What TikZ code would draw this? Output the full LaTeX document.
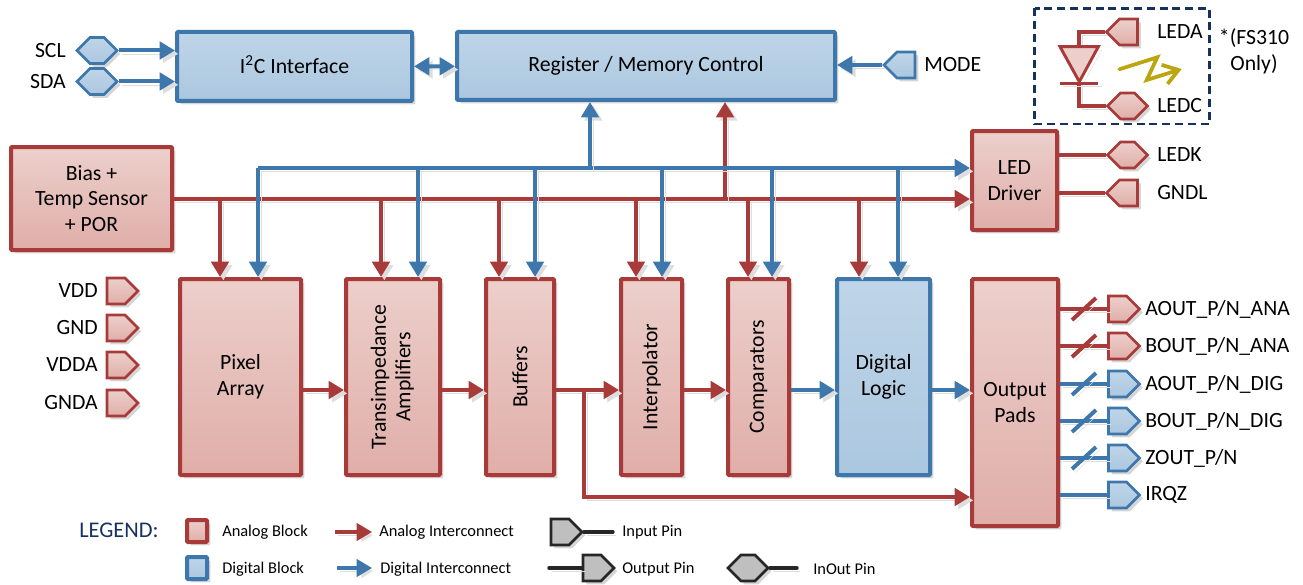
\documentclass[tikz,border=0pt]{standalone}
\usepackage{fontspec}
\setmainfont{Carlito}
\usetikzlibrary{arrows.meta,calc,shadows,shapes.symbols}
\definecolor{anared}{HTML}{A83B3A}
\definecolor{anatop}{HTML}{ECCFCB}
\definecolor{anabot}{HTML}{E0AEA9}
\definecolor{digblue}{HTML}{3E77AC}
\definecolor{digtop}{HTML}{BFD5E8}
\definecolor{digbot}{HTML}{ABC7DF}
\definecolor{navy}{HTML}{17315F}
\definecolor{zap}{HTML}{BCA60E}
\definecolor{pingray}{HTML}{BFBFBF}
\definecolor{pinline}{HTML}{262626}
\tikzset{
  lineshade/.style={preaction={draw=black!13, transform canvas={xshift=2.5pt,yshift=-2.5pt}}},
  ana/.style={draw=anared, line width=3pt, lineshade},
  dig/.style={draw=digblue, line width=3pt, lineshade},
  legline/.style={draw=pinline, line width=2.6pt, line cap=round, lineshade},
  boxshade/.style={drop shadow={shadow xshift=2.5pt, shadow yshift=-2.5pt, opacity=0.16, fill=black}},
  anafill/.style={draw=anared, top color=anatop, bottom color=anabot},
  digfill/.style={draw=digblue, top color=digtop, bottom color=digbot},
  grayfill/.style={draw=pinline, fill=pingray},
  size/.style n args={2}{minimum width=#1*0.75pt, minimum height=#2*0.75pt},
  block/.style={line width=3pt, rounded corners=0.8pt, boxshade, inner sep=0pt, align=center,
    font=\fontsize{16.3}{19.4}\selectfont},
  inpin/.style={signal, signal to=west, line width=2pt, inner sep=0pt, size={31}{26}, boxshade},
  outpin/.style={signal, signal to=east, line width=2pt, inner sep=0pt, size={31}{26}, boxshade},
  iopin/.style={signal, signal to=west and east, line width=2pt, inner sep=0pt, size={40}{26}, boxshade},
  lab/.style={font=\fontsize{16.3}{19.4}\selectfont, inner sep=0pt, align=center},
  leg/.style={font=\fontsize{12.3}{14}\selectfont, inner sep=0pt, anchor=west},
}
\begin{document}
\begin{tikzpicture}[x=0.75pt, y=-0.75pt, >={Triangle[length=11.5pt,width=13pt]}]
  \useasboundingbox (0,0) rectangle (1303,585);

  % blocks
  \node[block, digfill, size={235}{69}] (iic) at (294.5,66.5) {I\smash{\textsuperscript{2}}C Interface};
  \node[block, digfill, size={378}{68}] (regctl) at (646,66) {Register / Memory Control};
  \node[block, anafill, size={161}{103}] (bias) at (91.5,198.5) {Bias +\\Temp Sensor\\+ POR};
  \node[block, anafill, size={85}{99}] (driver) at (1014.5,180.5) {LED\\Driver};
  \node[block, anafill, size={121}{196}] (pixel) at (240.5,377) {Pixel\\Array};
  \node[block, anafill, size={94}{196}] (trans) at (393,377) {\rotatebox{90}{\begin{tabular}{@{}c@{}}Transimpedance\\[-1pt]Amplifiers\end{tabular}}};
  \node[block, anafill, size={68}{196}] (buffers) at (520,377) {\rotatebox{90}{Buffers}};
  \node[block, anafill, size={61}{196}] (interp) at (651.5,377) {\rotatebox{90}{Interpolator}};
  \node[block, anafill, size={61}{196}] (comp) at (758.5,377) {\rotatebox{90}{Comparators}};
  \node[block, digfill, size={93}{196}] (logic) at (883.5,377) {Digital\\Logic};
  \node[block, anafill, size={86}{247}] (pads) at (1015,402.5) {Output\\Pads};

  % pins with their names
  \node[iopin, digfill] (scl) at (97,50.5) {};
  \node[iopin, digfill] (sda) at (97,81.5) {};
  \node[lab, anchor=east] (sclname) at (66,50.5) {SCL};
  \node[lab, anchor=east] (sdaname) at (66,81.5) {SDA};
  \node[inpin, digfill] (mode) at (906,65) {};
  \node[lab, anchor=west] (modename) at (924,65) {MODE};
  \foreach \pinname/\pinrow in {VDD/291,GND/328,VDDA/365,GNDA/403}{
    \node[outpin, anafill] (p\pinname) at (116,\pinrow) {};
    \node[lab, anchor=east] (n\pinname) at (98,\pinrow) {\pinname};
  }
  \node[inpin, anafill] (leda) at (1128.5,32) {};
  \node[iopin, anafill] (ledc) at (1127.5,106) {};
  \node[iopin, anafill] (ledk) at (1127.5,155) {};
  \node[inpin, anafill] (gndl) at (1128.5,193) {};
  \foreach \pinname/\pinrow in {LEDA/32,LEDC/106,LEDK/155,GNDL/193}
    \node[lab, anchor=west] (n\pinname) at (1157,\pinrow) {\pinname};
  \node[lab] (only) at (1254,51) {*(FS310\\Only)};
  \node[outpin, anafill] (aoa) at (1117.5,309) {};
  \node[outpin, anafill] (boa) at (1117.5,346) {};
  \node[outpin, digfill] (aod) at (1117.5,384) {};
  \node[outpin, digfill] (bod) at (1117.5,421) {};
  \node[outpin, digfill] (zout) at (1117.5,458) {};
  \node[outpin, digfill] (irqz) at (1117.5,495) {};
  \foreach \pinid/\pintext in {aoa/{AOUT\_P/N\_ANA},boa/{BOUT\_P/N\_ANA},aod/{AOUT\_P/N\_DIG},bod/{BOUT\_P/N\_DIG},zout/{ZOUT\_P/N},irqz/{IRQZ}}
    \node[lab, anchor=west] (n\pinid) at ($(\pinid.center)+(27.5,0)$) {\pintext};

  % top interconnect
  \draw[dig,->] (scl) -- (iic.west |- scl);
  \draw[dig,->] (sda) -- (iic.west |- sda);
  \draw[dig,<->] (iic) -- (regctl);
  \draw[dig,->] (mode) -- (regctl.east |- mode);

  % LED side
  \coordinate (dtop) at (1079.3,46.7);
  \coordinate (dtip) at (1079.3,81.7);
  \draw[ana] (leda) -| (dtop);
  \draw[ana] (dtip) |- (ledc);
  \draw[draw=anared, line width=2.2pt, fill=anatop, lineshade] (1060,46.7) -- (1098.3,46.7) -- (dtip) -- cycle;
  \draw[draw=anared, line width=2.2pt, lineshade] (1060,83.3) -- (1098.3,83.3);
  \draw[draw=zap, line width=2.8pt, line cap=round, -{Straight Barb[length=11pt,width=15pt]}] (1119.3,69.3) -- (1157.3,57.3) -- (1146.7,80) -- (1181.7,69);
  \draw[ana] (driver.east |- ledk) -- (ledk);
  \draw[ana] (driver.east |- gndl) -- (gndl);
  \draw[navy, line width=2.2pt, dash pattern=on 6pt off 3.6pt] (1034.5,8.5) rectangle (1209.5,124);

  % buses
  \coordinate (redbus) at (173,199);
  \coordinate (bluebus) at (258,168);
  \coordinate (row) at (0,390);
  \draw[ana,->] (bias.east |- redbus) -- (driver.west |- redbus);
  \draw[ana,->] (725,199) -- (regctl.south -| 725,199);
  \foreach \blk/\redx in {pixel/220,trans/381,buffers/499,interp/636,comp/748,logic/859}
    \draw[ana,->] (\redx,199) -- (\blk.north -| \redx,199);
  \draw[dig,->] (bluebus) -- (driver.west |- bluebus);
  \draw[dig,->] (590,168) -- (regctl.south -| 590,168);
  \foreach \blk/\bluex in {pixel/258,trans/418,buffers/535,interp/662,comp/772,logic/898}
    \draw[dig,->] (\bluex,168) -- (\blk.north -| \bluex,168);

  % signal path
  \draw[ana,->] (pixel.east |- row) -- (trans.west |- row);
  \draw[ana,->] (trans.east |- row) -- (buffers.west |- row);
  \draw[ana,->] (buffers.east |- row) -- (interp.west |- row);
  \draw[ana,->] (interp.east |- row) -- (comp.west |- row);
  \draw[dig,->] (comp.east |- row) -- (logic.west |- row);
  \draw[dig,->] (logic.east |- row) -- (pads.west |- row);
  \coordinate (tap) at (584,390);
  \draw[ana,->] (tap) |- (pads.west |- 0,497);

  % output lines
  \foreach \pinid in {aoa,boa}{
    \draw[ana] (pads.east |- \pinid) -- (\pinid);
    \draw[ana] ($(1084,0 |- \pinid)+(-12,11)$) -- +(24,-22);
  }
  \foreach \pinid in {aod,bod,zout}{
    \draw[dig] (pads.east |- \pinid) -- (\pinid);
    \draw[dig] ($(1084,0 |- \pinid)+(-12,11)$) -- +(24,-22);
  }
  \draw[dig] (pads.east |- irqz) -- (irqz);

  % legend
  \node[font=\fontsize{16.8}{18}\selectfont, text=navy, inner sep=0pt, anchor=west] (legtitle) at (79,530) {LEGEND:};
  \node[block, anafill, size={20}{22}] (legana) at (197,531) {};
  \node[block, digfill, size={20}{22}] (legdig) at (197,568) {};
  \node[leg] (leganatxt) at (222,532) {Analog Block};
  \node[leg] (legdigtxt) at (222,569) {Digital Block};
  \coordinate (arana) at (335,532);
  \coordinate (ardig) at (337,568);
  \draw[ana,->, line width=2.4pt] (arana) -- (372,532);
  \draw[dig,->, line width=2.4pt] (ardig) -- (372,568);
  \node[leg] (anaarrow) at (379,532) {Analog Interconnect};
  \node[leg] (digarrow) at (380,569) {Digital Interconnect};
  \node[outpin, grayfill] (legin) at (560,532) {};
  \coordinate (leginend) at (613,532);
  \draw[legline] (legin) -- (leginend);
  \node[leg] (legintxt) at (622,532) {Input Pin};
  \coordinate (legoutend) at (549,568);
  \node[outpin, grayfill] (legout) at (592,568) {};
  \draw[legline] (legoutend) -- (legout);
  \node[leg] (legouttxt) at (622,569) {Output Pin};
  \node[iopin, grayfill] (legio) at (748,568) {};
  \coordinate (legioend) at (797,568);
  \draw[legline] (legio) -- (legioend);
  \node[leg] (legiotxt) at (813,569) {InOut Pin};
\end{tikzpicture}
\end{document}
